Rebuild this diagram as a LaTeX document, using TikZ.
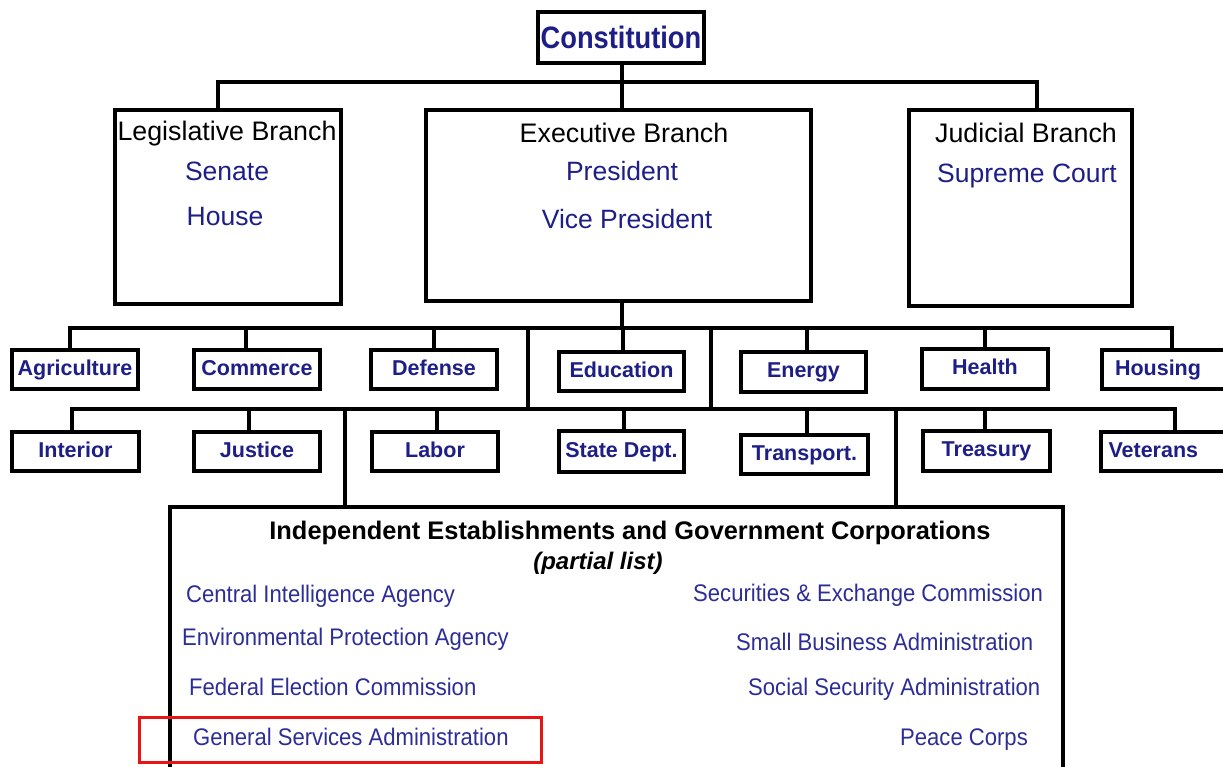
\documentclass[tikz,border=0pt]{standalone}
\usepackage{fontspec}
\setmainfont{Liberation Sans}
\newfontfamily\narrowfont[FakeStretch=0.92]{Liberation Sans}
\newfontfamily\condfont[FakeStretch=0.88]{Liberation Sans}
\definecolor{navy}{RGB}{30,30,135}
\definecolor{listblue}{RGB}{45,45,150}
\definecolor{hlred}{RGB}{235,20,20}
\begin{document}
\begin{tikzpicture}[x=1pt,y=-1pt,
  box/.style={draw=black,line width=4.5pt,inner sep=0pt,fill=white},
  dept/.style={box,text=navy,font=\fontsize{21.5}{24}\selectfont\bfseries,minimum height=39pt,text height=15.5pt,text depth=4.5pt},
  conn/.style={line width=3.2pt},
  brtitle/.style={anchor=base,font=\fontsize{26.8}{30}\selectfont,text=black,inner sep=0pt},
  brname/.style={anchor=base,font=\fontsize{26.5}{30}\selectfont,text=navy,inner sep=0pt},
  item/.style={anchor=base west,font=\narrowfont\fontsize{24}{28}\selectfont,text=listblue,inner sep=0pt}]
\useasboundingbox (0,0) rectangle (1223,766);
\clip (0,0) rectangle (1223,766);

% top level
\node[box,minimum width=166pt,minimum height=51pt,text=navy,font=\condfont\fontsize{31}{33}\selectfont\bfseries] (con) at (621,37.5) {Constitution};
\node[box,minimum width=226pt,minimum height=194pt] (leg) at (228,207) {};
\node[box,minimum width=385pt,minimum height=191pt] (exe) at (618.5,205.5) {};
\node[box,minimum width=223pt,minimum height=196pt] (jud) at (1020.5,208) {};

\node[brtitle] (legT) at (227,140) {Legislative Branch};
\node[brname] (legS) at (227,180) {Senate};
\node[brname] (legH) at (225,225) {House};
\node[brtitle] (exeT) at (624,142) {Executive Branch};
\node[brname] (exeP) at (622,180) {President};
\node[brname] (exeV) at (627,228) {Vice President};
\node[brtitle] (judT) at (1026,142) {Judicial Branch};
\node[brname] (judS) at (1027,182) {Supreme Court};

\coordinate (bus0) at (622,82);
\draw[conn] (622,0 |- con.south) -- (622,0 |- exe.north);
\draw[conn] (218,0 |- leg.north) |- (1037,0 |- bus0) -- (1037,0 |- jud.north);

% departments row 1
\node[dept,minimum width=126pt] (agr) at (75,369.5) {Agriculture};
\node[dept,minimum width=126pt] (com) at (257,369.5) {Commerce};
\node[dept,minimum width=126pt] (def) at (434,369.5) {Defense};
\node[dept,minimum width=125pt] (edu) at (621.5,371.5) {Education};
\node[dept,minimum width=125pt,minimum height=40pt] (ene) at (803.5,372) {Energy};
\node[dept,minimum width=126pt,minimum height=40pt] (hea) at (985,369) {Health};
\node[dept,minimum width=136pt,text width=126pt,align=left] (hou) at (1170,369.5) {\hspace*{8pt}Housing};

% departments row 2
\node[dept,minimum width=127pt] (int) at (75.5,451.5) {Interior};
\node[dept,minimum width=126pt] (jus) at (257,451.5) {Justice};
\node[dept,minimum width=126pt] (lab) at (435,451.5) {Labor};
\node[dept,minimum width=125pt,minimum height=41pt] (sta) at (621.5,451.5) {State Dept.};
\node[dept,minimum width=127pt] (tra) at (804.5,454.5) {Transport.};
\node[dept,minimum width=127pt,minimum height=40pt] (tre) at (986.5,451) {Treasury};
\node[dept,minimum width=137pt,text width=126pt,align=left] (vet) at (1169.5,451.5) {\hspace*{2pt}Veterans};

% bus row 1
\coordinate (bus1) at (622,328);
\draw[conn] (exe.south -| bus1) -- (bus1);
\draw[conn] (70,0 |- agr.north) |- (1172,0 |- bus1) -- (1172,0 |- hou.north);
\draw[conn] (246,0 |- bus1) -- (246,0 |- com.north);
\draw[conn] (434,0 |- bus1) -- (434,0 |- def.north);
\draw[conn] (623,0 |- bus1) -- (623,0 |- edu.north);
\draw[conn] (807,0 |- bus1) -- (807,0 |- ene.north);
\draw[conn] (985,0 |- bus1) -- (985,0 |- hea.north);

% bus row 2
\coordinate (bus2) at (622,409);
\draw[conn] (528,0 |- bus1) -- (528,0 |- bus2);
\draw[conn] (711,0 |- bus1) -- (711,0 |- bus2);
\draw[conn] (72,0 |- int.north) |- (1175,0 |- bus2) -- (1175,0 |- vet.north);
\draw[conn] (249,0 |- bus2) -- (249,0 |- jus.north);
\draw[conn] (437,0 |- bus2) -- (437,0 |- lab.north);
\draw[conn] (624,0 |- bus2) -- (624,0 |- sta.north);
\draw[conn] (807,0 |- bus2) -- (807,0 |- tra.north);
\draw[conn] (985,0 |- bus2) -- (985,0 |- tre.north);

% independent establishments
\node[draw=black,line width=3.2pt,minimum width=893pt,minimum height=300pt,inner sep=0pt] (ind) at (616.5,657) {};
\draw[conn] (345,0 |- bus2) -- (345,0 |- ind.north);
\draw[conn] (896,0 |- bus2) -- (896,0 |- ind.north);

\node[anchor=base,inner sep=0pt,font=\fontsize{25.4}{28}\selectfont\bfseries] (indT) at (630,539) {Independent Establishments and Government Corporations};
\node[anchor=base,inner sep=0pt,font=\fontsize{24}{28}\selectfont\bfseries\itshape] (indP) at (598,569) {(partial list)};

\node[item] (cia) at (186,602) {Central Intelligence Agency};
\node[item] (epa) at (182,645) {Environmental Protection Agency};
\node[item] (fec) at (189,695) {Federal Election Commission};
\node[item] (gsa) at (193,745) {General Services Administration};
\node[item] (sec) at (693,601) {Securities \& Exchange Commission};
\node[item] (sba) at (736,650) {Small Business Administration};
\node[item] (ssa) at (748,695) {Social Security Administration};
\node[item] (pc) at (900,745) {Peace Corps};

\node[draw=hlred,line width=3pt,minimum width=402pt,minimum height=45pt,inner sep=0pt] (hl) at (340.5,740) {};
\end{tikzpicture}
\end{document}
